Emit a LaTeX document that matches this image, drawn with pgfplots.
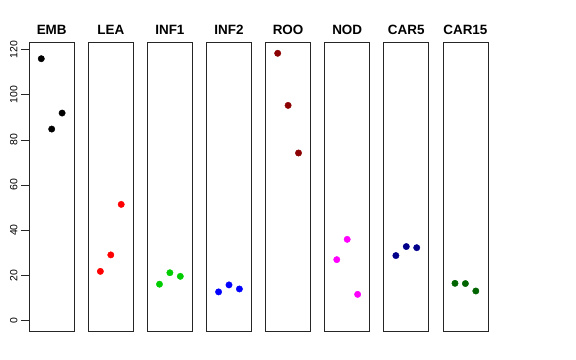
\documentclass[border=0pt]{standalone}
\usepackage{fontspec}
\setmainfont{Liberation Sans}
\usepackage{pgfplots}
\pgfplotsset{compat=1.18}
\definecolor{rgreen}{RGB}{0,205,0}
\definecolor{rdarkred}{RGB}{139,0,0}
\definecolor{rnavy}{RGB}{0,0,139}
\definecolor{rdarkgreen}{RGB}{0,100,0}
\definecolor{rmagenta}{RGB}{255,0,255}
\tikzset{ptitle/.style={anchor=base, inner sep=0pt, yshift=7.7bp,
      font=\fontsize{13.5}{15}\selectfont\bfseries}}
\begin{document}
\begin{tikzpicture}
\path[use as bounding box] (0bp,0bp) rectangle (576bp,360bp);
\pgfplotsset{
  panel/.style={
    at={(#1bp,29bp)}, anchor=south west, scale only axis,
    width=45bp, height=288.3bp,
    xmin=-0.16, xmax=4.16, ymin=-4.74, ymax=123.1,
    xtick=\empty, ytick=\empty, clip=false,
    axis line style={line width=0.75bp, black!85},
  },
  pts/.style={only marks, mark=*, mark size=3.2bp, color=#1, mark options={draw=#1, fill=#1}},
}
\begin{axis}[panel=29.2,
  ytick={0,20,...,120}, tick align=outside, ytick pos=left,
  major tick length=8bp, tick style={line width=0.75bp, black!85},
  /pgf/number format/assume math mode=true,
  yticklabel style={rotate=90, anchor=south, inner sep=3.5bp, font=\fontsize{10.5}{12}\selectfont}]
\addplot[pts=black] coordinates {(1,116.0) (2,84.8) (3,91.9)};
\node[ptitle] at (rel axis cs:0.5,1) {EMB};
\end{axis}
\begin{axis}[panel=88.3]
\addplot[pts=red] coordinates {(1,21.7) (2,29.0) (3,51.4)};
\node[ptitle] at (rel axis cs:0.5,1) {LEA};
\end{axis}
\begin{axis}[panel=147.4]
\addplot[pts=rgreen] coordinates {(1,16.0) (2,21.1) (3,19.5)};
\node[ptitle] at (rel axis cs:0.5,1) {INF1};
\end{axis}
\begin{axis}[panel=206.5]
\addplot[pts=blue] coordinates {(1,12.6) (2,15.7) (3,13.9)};
\node[ptitle] at (rel axis cs:0.5,1) {INF2};
\end{axis}
\begin{axis}[panel=265.6]
\addplot[pts=rdarkred] coordinates {(1,118.4) (2,95.3) (3,74.2)};
\node[ptitle] at (rel axis cs:0.5,1) {ROO};
\end{axis}
\begin{axis}[panel=324.7]
\addplot[pts=rmagenta] coordinates {(1,26.9) (2,35.9) (3,11.5)};
\node[ptitle] at (rel axis cs:0.5,1) {NOD};
\end{axis}
\begin{axis}[panel=383.8]
\addplot[pts=rnavy] coordinates {(1,28.7) (2,32.7) (3,32.2)};
\node[ptitle] at (rel axis cs:0.5,1) {CAR5};
\end{axis}
\begin{axis}[panel=442.9]
\addplot[pts=rdarkgreen] coordinates {(1,16.4) (2,16.3) (3,13.0)};
\node[ptitle] at (rel axis cs:0.5,1) {CAR15};
\end{axis}
\end{tikzpicture}
\end{document}
